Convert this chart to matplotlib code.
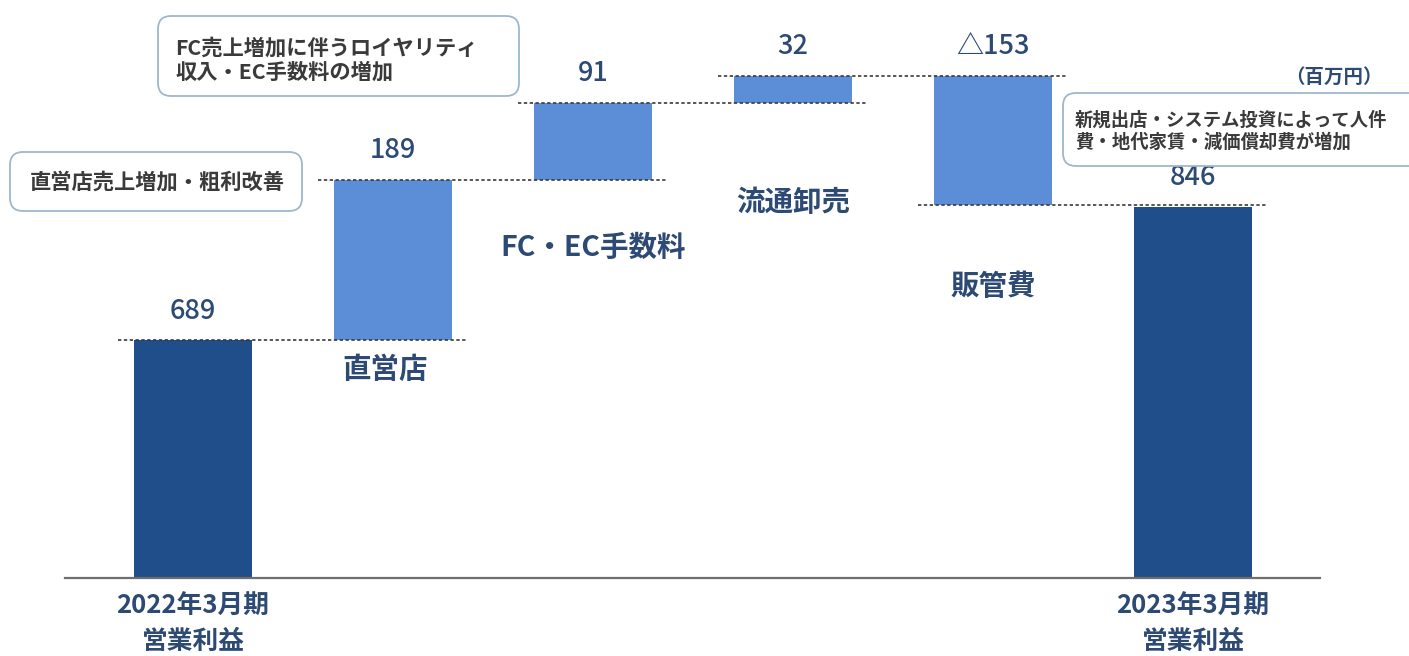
import matplotlib
matplotlib.use("Agg")
import matplotlib.pyplot as plt
from matplotlib.patches import FancyBboxPatch

plt.rcParams['font.family'] = ['Noto Sans CJK JP', 'DejaVu Sans']

# ---- data ----
categories = ["2022年3月期\n営業利益", "直営店", "FC・EC手数料", "流通卸売", "販管費", "2023年3月期\n営業利益"]
values = [689, 189, 91, 32, -153, 846]
value_labels = ["689", "189", "91", "32", "△153", "846"]
is_total = [True, False, False, False, False, True]
notes = ["直営店売上増加・粗利改善",
         "FC売上増加に伴うロイヤリティ\n収入・EC手数料の増加",
         "新規出店・システム投資によって人件\n費・地代家賃・減価償却費が増加"]
unit_label = "（百万円）"

# ---- style ----
W, H = 1409, 656
DARK = "#204E8A"
LIGHT = "#5B8ED6"
NAVY = "#2C4A74"
NOTE_TXT = "#3A3A3A"
BOX_EDGE = "#9DB8CC"
cat_offsets_px = [30, 68, 100, 82]   # label distance below delta bars

fig = plt.figure(figsize=(W / 100, H / 100), dpi=100)
ax = fig.add_axes([65 / W, 1 - 578 / H, (1320 - 65) / W, 578 / H])
ax.set_xlim(-0.64, 5.635)
ax.set_ylim(409, 1090)

width = 0.59
bottoms, heights, colors, tops = [], [], [], []
running = 0
for v, tot in zip(values, is_total):
    if tot:
        bottoms.append(0); heights.append(v); colors.append(DARK)
        running = v
        tops.append(v)
    else:
        b = running if v >= 0 else running + v
        bottoms.append(b); heights.append(abs(v)); colors.append(LIGHT)
        tops.append(b + abs(v))
        running += v

xs = list(range(len(values)))
ax.bar(xs, heights, bottom=bottoms, width=width, color=colors, zorder=2)

# connectors
levels = []
running = 0
for v, tot in zip(values, is_total):
    running = v if tot else running + v
    levels.append(running)
for i in range(len(values) - 1):
    ax.plot([i - width / 2 - 0.08, i + 1 + width / 2 + 0.07], [levels[i], levels[i]],
            color="#3A3A3A", lw=1.2, ls=(0, (2.0, 1.5)), zorder=3, clip_on=False)

# value labels
for i, (t, lab) in enumerate(zip(tops, value_labels)):
    ax.annotate(lab, (i, t), xytext=(0, 21), textcoords="offset points",
                ha="center", va="center", fontsize=19.5, fontweight="medium", color=NAVY)

# category labels for delta bars
k = 0
for i, (cat, tot) in enumerate(zip(categories, is_total)):
    if not tot:
        ax.annotate(cat, (i, bottoms[i]), xytext=(-6 if i == 1 else 0, -cat_offsets_px[k] * 0.72),
                    textcoords="offset points", ha="center", va="center",
                    fontsize=20.5, fontweight="bold", color=NAVY)
        k += 1

tot_idx = [i for i, t in enumerate(is_total) if t]
ax.set_xticks(tot_idx)
ax.set_xticklabels([categories[i] for i in tot_idx], fontsize=18.5, fontweight="bold",
                   color=NAVY, linespacing=1.38)
ax.tick_params(axis="x", length=0, pad=11)
ax.set_yticks([])
for s in ["top", "left", "right"]:
    ax.spines[s].set_visible(False)
ax.spines["bottom"].set_color("#6E6E6E")
ax.spines["bottom"].set_linewidth(1.6)

# annotation boxes (pixel coords: x from left, y from top)
def add_box(x0, y0, x1, y1):
    p = FancyBboxPatch((x0 / 100, (H - y1) / 100), (x1 - x0) / 100, (y1 - y0) / 100,
                       boxstyle="round,pad=0,rounding_size=0.13",
                       transform=fig.dpi_scale_trans, facecolor="white",
                       edgecolor=BOX_EDGE, lw=1.3, zorder=5, clip_on=False)
    fig.add_artist(p)

def add_text(x, y, s, **kw):
    fig.text(x / W, 1 - y / H, s, zorder=6, **kw)

add_box(10, 152, 302, 211)
add_text(30, 182, notes[0], ha="left", va="center", fontsize=15.3,
         fontweight="bold", color=NOTE_TXT)

add_box(158, 16, 519, 96)
add_text(175, 60, notes[1], ha="left", va="center", fontsize=15.3,
         fontweight="bold", color=NOTE_TXT, linespacing=1.2)

add_box(1063, 93, 1425, 166)
add_text(1075, 131, notes[2], ha="left", va="center", fontsize=13.2,
         fontweight="bold", color=NOTE_TXT, linespacing=1.2)

add_text(1383, 77, unit_label, ha="right", va="center", fontsize=14,
         fontweight="bold", color=NAVY)

fig.savefig("out.png", dpi=100, facecolor="white")
